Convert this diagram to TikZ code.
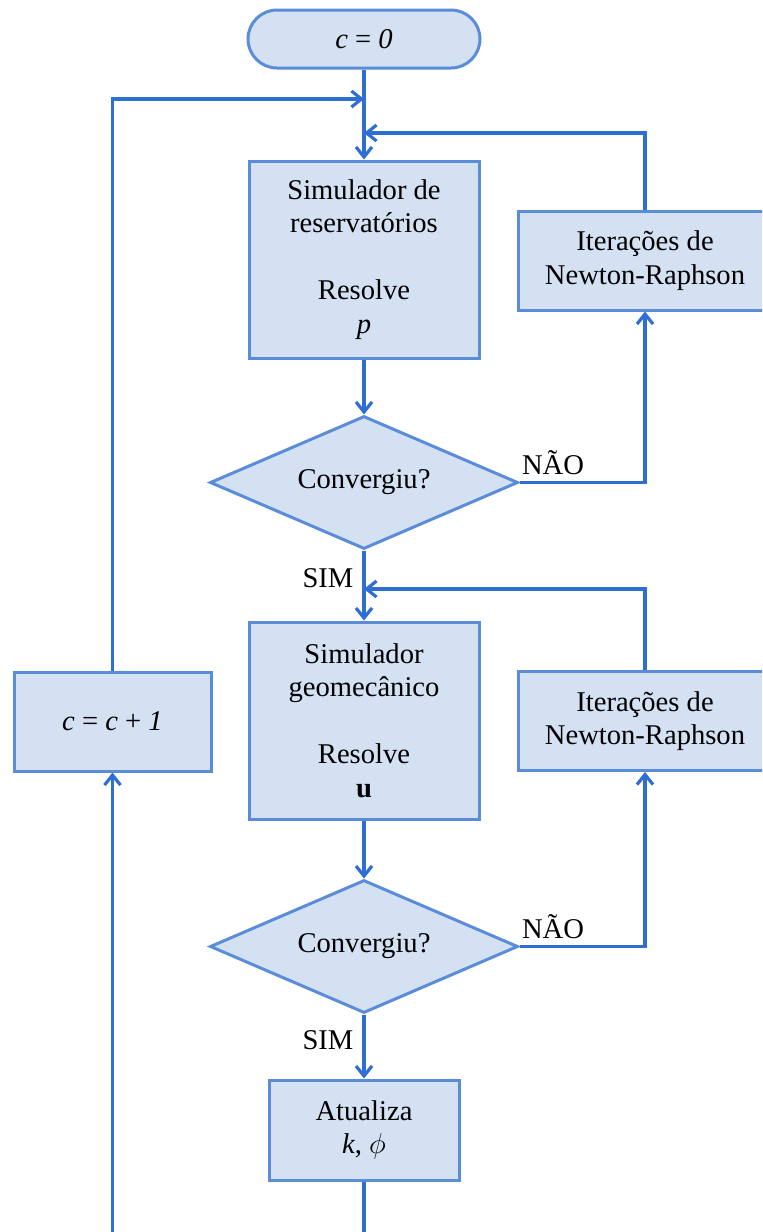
\documentclass[tikz,border=0pt]{standalone}
\usepackage{fontspec}
\setmainfont{Liberation Serif}
\usetikzlibrary{shapes.geometric,arrows.meta,positioning}
\definecolor{boxfill}{HTML}{D4E1F3}
\definecolor{boxline}{HTML}{5A8CD8}
\definecolor{flow}{HTML}{2F6FD4}

\begin{document}
\begin{tikzpicture}[
  x=0.5pt, y=-0.5pt,
  every node/.style={font=\fontsize{14.3}{16.8}\selectfont},
  block/.style={rectangle, draw=boxline, fill=boxfill, line width=1.5pt, align=center, inner sep=2pt},
  term/.style={block, rounded corners=14.5pt, minimum width=116pt, minimum height=29pt},
  simbox/.style={block, minimum width=115pt, minimum height=98.5pt},
  nrbox/.style={block, minimum width=127pt, minimum height=49.5pt},
  decision/.style={diamond, draw=boxline, fill=boxfill, line width=1.5pt, aspect=2.3, inner sep=1pt, minimum width=154pt, minimum height=66.5pt},
  arr/.style={-{Straight Barb[length=5pt,width=8pt]}, line width=1.6pt, flow},
  ln/.style={line width=1.6pt, flow}
]
  \clip (0,0) rectangle (762,1232);

  \node[term] (start) at (364,39) {\textit{c} = \textit{0}};
  \node[simbox] (sim1) at (364,259.5) {Simulador de\\reservatórios\\[16.8pt]Resolve\\\textit{p}};
  \node[nrbox] (nr1) at (645,260.5) {Iterações de\\Newton-Raphson};
  \node[decision] (conv1) at (364,482.5) {Convergiu?};
  \node[simbox] (sim2) at (364,720.5) {Simulador\\geomecânico\\[16.8pt]Resolve\\\textbf{u}};
  \node[nrbox] (nr2) at (645,721) {Iterações de\\Newton-Raphson};
  \node[block, minimum width=98.5pt, minimum height=49.5pt] (inc) at (112.5,721.5) {\textit{c} = \textit{c} + \textit{1}};
  \node[decision] (conv2) at (364,946.5) {Convergiu?};
  \node[block, minimum width=95pt, minimum height=50pt] (upd) at (364,1130) {Atualiza\\\textit{k}, $\phi$};

  \node (nao1) at (553,463) {NÃO};
  \node (sim1lbl) at (328,578) {SIM};
  \node (nao2) at (553,927) {NÃO};
  \node (sim2lbl) at (328,1040) {SIM};

  \coordinate (j1) at (364,99);
  \coordinate (j2) at (364,133);
  \coordinate (j3) at (364,589);
  \coordinate (bl) at (112.5,1240);
  \coordinate (br) at (364,1240);

  \draw[arr] (start) -- (sim1);
  \draw[arr] (inc) |- (j1);
  \draw[arr] (nr1) |- (j2);
  \draw[arr] (sim1) -- (conv1);
  \draw[arr] (conv1) -| (nr1);
  \draw[arr] (conv1) -- (sim2);
  \draw[arr] (nr2) |- (j3);
  \draw[arr] (sim2) -- (conv2);
  \draw[arr] (conv2) -| (nr2);
  \draw[arr] (conv2) -- (upd);
  \draw[ln] (upd) -- (br);
  \draw[arr] (bl) -- (inc);
\end{tikzpicture}
\end{document}
